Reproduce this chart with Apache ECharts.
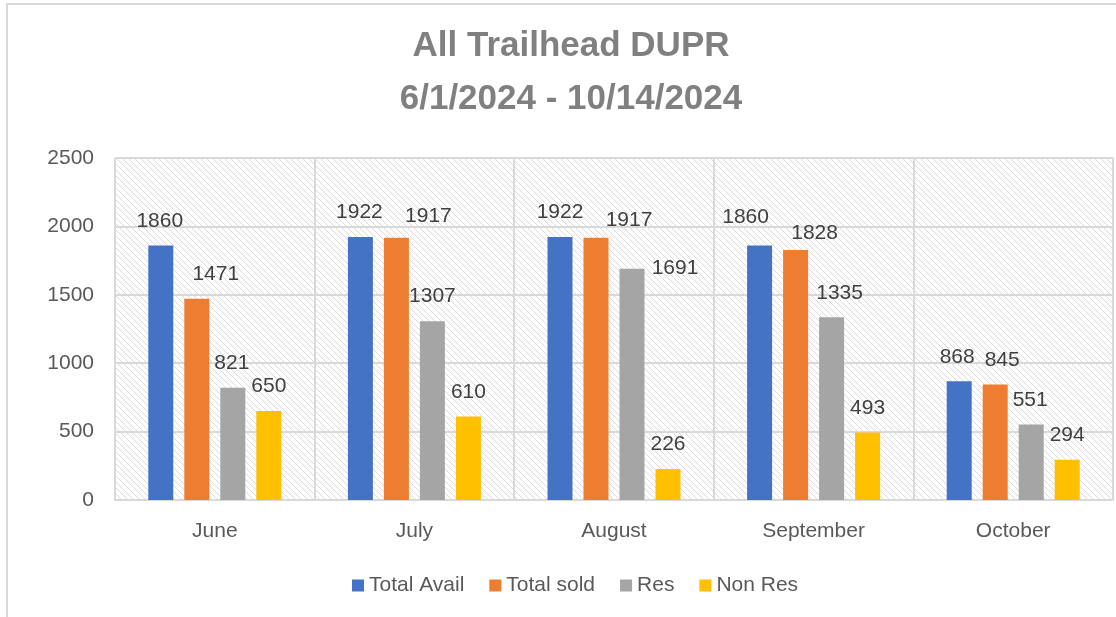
<!DOCTYPE html>
<html>
<head>
<meta charset="utf-8">
<script src="https://cdn.jsdelivr.net/npm/echarts@6/dist/echarts.min.js"></script>
<style>
  html, body { margin: 0; padding: 0; background: #fff; }
  #main { width: 1116px; height: 617px; }
</style>
</head>
<body>
<div id="main"></div>
<script>
// data
var months = ['June', 'July', 'August', 'September', 'October']
var seriesNames = ['Total Avail', 'Total sold', 'Res', 'Non Res']
var totalAvail = [1860, 1922, 1922, 1860, 868]
var totalSold = [1471, 1917, 1917, 1828, 845]
var res = [821, 1307, 1691, 1335, 551]
var nonRes = [650, 610, 226, 493, 294]
var yTicks = [0, 500, 1000, 1500, 2000, 2500]

var colors = ['#4472C4', '#ED7D31', '#A5A5A5', '#FFC000']

// labels were dragged around by hand in the original, nudge them the same way
var labelNudge = [
  [[-1, 0], [-1, 0], [0, 0], [-14, -4], [-2, 0]],
  [[19, 0], [32, 3], [33, 7], [19, 8], [7, 0]],
  [[-1, 0], [0, 0], [43, 24], [8, 0], [-1, 0]],
  [[0, 0], [0, 0], [0, 0], [0, 0], [0, 0]]
]

// hatched plot background
function hatch() {
  var c = document.createElement('canvas')
  c.width = 6
  c.height = 6
  var ctx = c.getContext('2d')
  ctx.fillStyle = '#ffffff'
  ctx.fillRect(0, 0, 6, 6)
  ctx.strokeStyle = '#dadada'
  ctx.lineWidth = 1
  ctx.beginPath()
  ctx.moveTo(-1, -1); ctx.lineTo(7, 7)
  ctx.moveTo(-4, 2); ctx.lineTo(4, 10)
  ctx.moveTo(2, -4); ctx.lineTo(10, 4)
  ctx.stroke()
  return c
}

var allValues = [totalAvail, totalSold, res, nonRes]
var series = seriesNames.map(function (name, si) {
  return {
    name: name,
    type: 'bar',
    barWidth: 25,
    barGap: '44%',
    itemStyle: { color: colors[si] },
    label: {
      show: true,
      position: 'top',
      distance: 14,
      color: '#404040',
      fontSize: 21,
      fontFamily: 'Liberation Sans'
    },
    data: allValues[si].map(function (v, i) {
      return { value: v, label: { offset: labelNudge[si][i] } }
    })
  }
})

var myChart = echarts.init(document.getElementById('main'))
myChart.setOption({
  animation: false,
  textStyle: { fontFamily: 'Liberation Sans' },
  title: {
    text: 'All Trailhead DUPR\n6/1/2024 - 10/14/2024',
    left: 566,
    textAlign: 'center',
    top: 15,
    textStyle: {
      color: '#808080',
      fontSize: 35,
      fontWeight: 'bold',
      lineHeight: 53,
      fontFamily: 'Liberation Sans'
    }
  },
  graphic: [{
    type: 'rect',
    shape: { x: 7, y: 4, width: 1200, height: 700 },
    style: { fill: 'none', stroke: '#d9d9d9', lineWidth: 2 },
    silent: true
  }],
  legend: {
    data: seriesNames,
    left: 347,
    top: 570,
    icon: 'rect',
    itemWidth: 12,
    itemHeight: 12,
    itemGap: 25,
    textStyle: { color: '#595959', fontSize: 21 }
  },
  grid: {
    left: 115,
    right: 3,
    top: 158,
    bottom: 117,
    show: true,
    borderWidth: 0,
    backgroundColor: { image: hatch(), repeat: 'repeat' }
  },
  xAxis: {
    type: 'category',
    data: months,
    axisLine: { show: true, lineStyle: { color: '#d9d9d9', width: 2 } },
    axisTick: { show: false },
    splitLine: { show: true, lineStyle: { color: '#d9d9d9', width: 2 } },
    axisLabel: { color: '#595959', fontSize: 21, margin: 21 }
  },
  yAxis: {
    type: 'value',
    min: yTicks[0],
    max: yTicks[yTicks.length - 1],
    interval: 500,
    axisLine: { show: false },
    axisTick: { show: false },
    splitLine: { lineStyle: { color: '#d9d9d9', width: 2 } },
    axisLabel: {
      color: '#595959',
      fontSize: 21,
      margin: 21,
      formatter: function (v) { return String(v) }
    }
  },
  series: series
})
</script>
</body>
</html>
